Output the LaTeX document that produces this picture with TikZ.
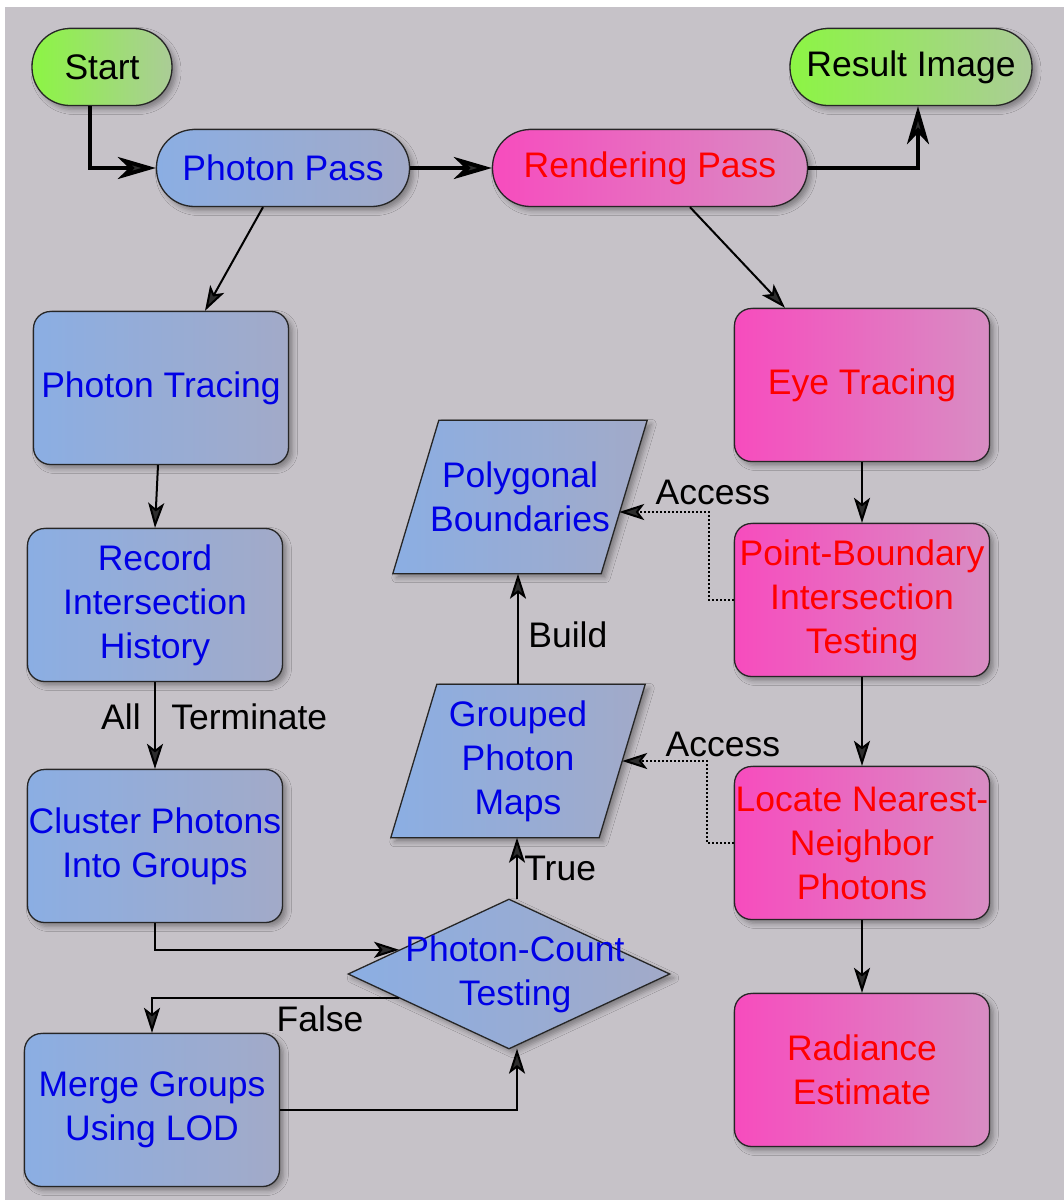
\documentclass[tikz,border=0pt]{standalone}
\usepackage{fontspec}
\setmainfont{Liberation Sans}
\usetikzlibrary{arrows.meta,shapes.geometric,calc,shadows.blur}

\definecolor{bg}{HTML}{C6C2C8}
\definecolor{blueL}{HTML}{8BAEE3}
\definecolor{blueR}{HTML}{A2AAC8}
\definecolor{pinkL}{HTML}{F74CBE}
\definecolor{pinkR}{HTML}{D88DC3}
\definecolor{greenL}{HTML}{8CF544}
\definecolor{greenR}{HTML}{ABCC97}
\definecolor{txtblue}{HTML}{0000E6}
\definecolor{txtred}{HTML}{FF0000}

\tikzset{
  every node/.style={font=\fontsize{35.5}{44}\selectfont, align=center},
  shade/.style={blur shadow={shadow xshift=4pt, shadow yshift=-4pt, shadow blur radius=5pt, shadow opacity=35}},
  base/.style={draw=black!85, line width=1.3pt, shade},
  bluefill/.style={base, left color=blueL, right color=blueR, text=txtblue},
  pinkfill/.style={base, left color=pinkL, right color=pinkR, text=txtred},
  greenfill/.style={base, left color=greenL, right color=greenR, text=black},
  pill/.style={rectangle, rounded corners=38pt, minimum height=77pt, inner sep=0pt},
  procbox/.style={rectangle, rounded corners=17pt, minimum width=255pt, minimum height=153pt, inner sep=0pt},
  % frame of a data block: the parallelogram is drawn round it, the text set on top
  databox/.style={rectangle, minimum width=208pt, minimum height=153pt, inner sep=0pt},
  datatext/.style={text=txtblue},
  decision/.style={bluefill, diamond, minimum width=322pt, minimum height=150pt, inner sep=0pt},
  boldflow/.style={line width=4pt, -{Stealth[length=38pt, width=22pt, inset=11pt]}},
  flow/.style={line width=2pt, -{Stealth[length=25pt, width=16pt, inset=6pt]}},
  accessflow/.style={line width=2pt, dotted, -{Stealth[length=25pt, width=16pt, inset=6pt]}},
  edgelabel/.style={text=black},
}

% parallelogram outline around a databox node (#1), slanted by 23pt each side
\newcommand\dataoutline[1]{%
  \draw[bluefill]
    ($(#1.north west)+(23,0)$) -- ($(#1.north east)+(23,0)$) --
    ($(#1.south east)+(-23,0)$) -- ($(#1.south west)+(-23,0)$) -- cycle;}

\begin{document}
\begin{tikzpicture}[x=1pt, y=-1pt]
  % canvas
  \fill[white] (0,0) rectangle (1064,1200);
  \fill[bg] (5,7) rectangle (1064,1200);
  \useasboundingbox (0,0) rectangle (1064,1200);

  % terminals
  \node[pill, greenfill, minimum width=140pt] (start) at (102,67) {Start};
  \node[pill, greenfill, minimum width=242pt] (result) at (911,67) {Result Image};

  % passes
  \node[pill, bluefill, minimum width=253pt] (ppass) at (283,168) {Photon Pass};
  \node[pill, pinkfill, minimum width=315pt] (rpass) at (650,168) {Rendering Pass};

  % photon pass branch
  \node[procbox, bluefill] (ptrace) at (161,388) {Photon Tracing};
  \node[procbox, bluefill] (record) at (155,605) {Record\\Intersection\\History};
  \node[procbox, bluefill] (cluster) at (155,846) {Cluster Photons\\Into Groups};
  \node[procbox, bluefill] (merge) at (152,1110) {Merge Groups\\Using LOD};

  \node[decision, label={[text=txtblue, xshift=6pt]center:Photon-Count\\Testing}] (count) at (509,974) {};

  \node[databox] (gmaps) at (518,761) {};
  \dataoutline{gmaps}
  \node[datatext] (gmapstext) at (gmaps.center) {Grouped\\Photon\\Maps};
  \node[databox] (poly) at (520,497) {};
  \dataoutline{poly}
  \node[datatext] (polytext) at (poly.center) {Polygonal\\Boundaries};

  % rendering pass branch
  \node[procbox, pinkfill] (eye) at (862,385) {Eye Tracing};
  \node[procbox, pinkfill] (pbit) at (862,600) {Point-Boundary\\Intersection\\Testing};
  \node[procbox, pinkfill] (knn) at (862,843) {Locate Nearest-\\Neighbor\\Photons};
  \node[procbox, pinkfill] (rad) at (862,1070) {Radiance\\Estimate};

  % main pass connectors
  \draw[boldflow] ($(start.south)+(-12,0)$) |- (ppass.west);
  \draw[boldflow] (ppass.east) -- (rpass.west);
  \draw[boldflow] (rpass.east) -| ($(result.south)+(7,0)$);

  \draw[flow] ($(ppass.south)+(-20,0)$) -- ($(ptrace.north)+(44,0)$);
  \draw[flow] ($(rpass.south)+(40,0)$) -- ($(eye.north)+(-77,0)$);

  % photon pass chain
  \draw[flow] ($(ptrace.south)+(-3,0)$) -- (record.north);
  \draw[flow] (record.south) -- (cluster.north)
    node[edgelabel, pos=0.4, left=10pt] {All}
    node[edgelabel, pos=0.4, right=12pt] {Terminate};
  \draw[flow] (cluster.south) |- ($(count.west)!0.32!(count.north)$);
  \draw[flow] ($(count.west)!0.32!(count.south)$) -| (merge.north)
    node[edgelabel, pos=0.16, below=3pt] {False};
  \coordinate (cbot) at ($(count.south)+(8,-1)$);
  \coordinate (ctop) at ($(count.north)+(8,1)$);
  \draw[flow] (merge.east) -| (cbot);
  \draw[flow] (ctop) -- (ctop |- gmaps.south)
    node[edgelabel, midway, right=3pt] {True};
  \draw[flow] (gmaps.north) -- (gmaps.north |- poly.south)
    node[edgelabel, pos=0.45, right=6pt] {Build};

  % rendering pass chain
  \draw[flow] (eye.south) -- (pbit.north);
  \draw[flow] (pbit.south) -- (knn.north);
  \draw[flow] (knn.south) -- (rad.north);

  % data access
  \coordinate (polyin) at ($(poly.east)+(-5,15)$);
  \coordinate (bend1) at ($(pbit.west)+(-25,0)$);
  \draw[accessflow] (pbit.west) -- (bend1) |- (polyin);
  \node[edgelabel, anchor=south] (access1) at ($(bend1 |- polyin)+(4,-4)$) {Access};

  \coordinate (bend2) at ($(knn.west)+(-27,0)$);
  \draw[accessflow] (knn.west) -- (bend2) |- (gmaps.east);
  \node[edgelabel, anchor=south] (access2) at ($(bend2 |- gmaps.east)+(16,-1)$) {Access};
\end{tikzpicture}
\end{document}
